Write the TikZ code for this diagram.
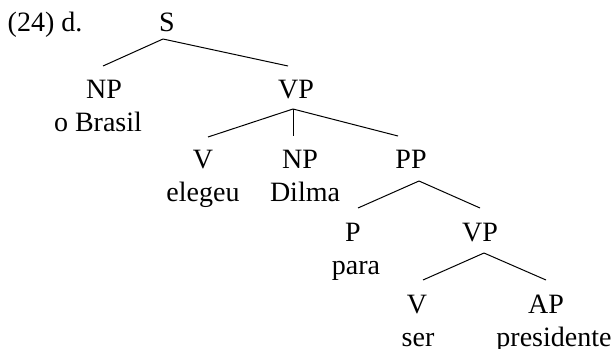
\documentclass[tikz,border=0pt]{standalone}
\usepackage{fontspec}
\setmainfont{Liberation Serif}

\begin{document}
\begin{tikzpicture}[x=0.5pt,y=-0.5pt,line width=0.5pt,
    font=\fontsize{14}{16}\selectfont,
    every node/.style={inner sep=0pt,anchor=base}]
      \useasboundingbox (0,0) rectangle (613,348);
      \node (ex) at (45,31.5) {(24) d.};
      \node (s) at (167,31.5) {S};
      \node (np1) at (104,98) {NP};
      \node (brasil) at (98,131) {o Brasil};
      \node (vp1) at (296,98) {VP};
      \node (v1) at (203,168) {V};
      \node (elegeu) at (203,201.5) {elegeu};
      \node (np2) at (300,168) {NP};
      \node (dilma) at (305,201.5) {Dilma};
      \node (pp) at (411,168.5) {PP};
      \node (p) at (353,241) {P};
      \node (para) at (356,274) {para};
      \node (vp2) at (480,241) {VP};
      \node (v2) at (417,313) {V};
      \node (ser) at (418,346.5) {ser};
      \node (ap) at (546,313) {AP};
      \node (pres) at (554,346.5) {presidente};
      \draw ([shift={(-4,7.5)}]s.base) -- ([shift={(-1,-32)}]np1.base);
      \draw ([shift={(-4,7.5)}]s.base) -- ([shift={(-8,-32)}]vp1.base);
      \draw ([shift={(-3,11)}]vp1.base) -- ([shift={(5,-31)}]v1.base);
      \draw ([shift={(-3,11)}]vp1.base) -- ([shift={(-7,-32)}]np2.base);
      \draw ([shift={(-3,11)}]vp1.base) -- ([shift={(-13,-32.5)}]pp.base);
      \draw ([shift={(8,12.5)}]pp.base) -- ([shift={(5,-33)}]p.base);
      \draw ([shift={(8,12.5)}]pp.base) -- ([shift={(0,-33)}]vp2.base);
      \draw ([shift={(4,12)}]vp2.base) -- ([shift={(6,-33)}]v2.base);
      \draw ([shift={(4,12)}]vp2.base) -- ([shift={(0,-33)}]ap.base);
\end{tikzpicture}
\end{document}
